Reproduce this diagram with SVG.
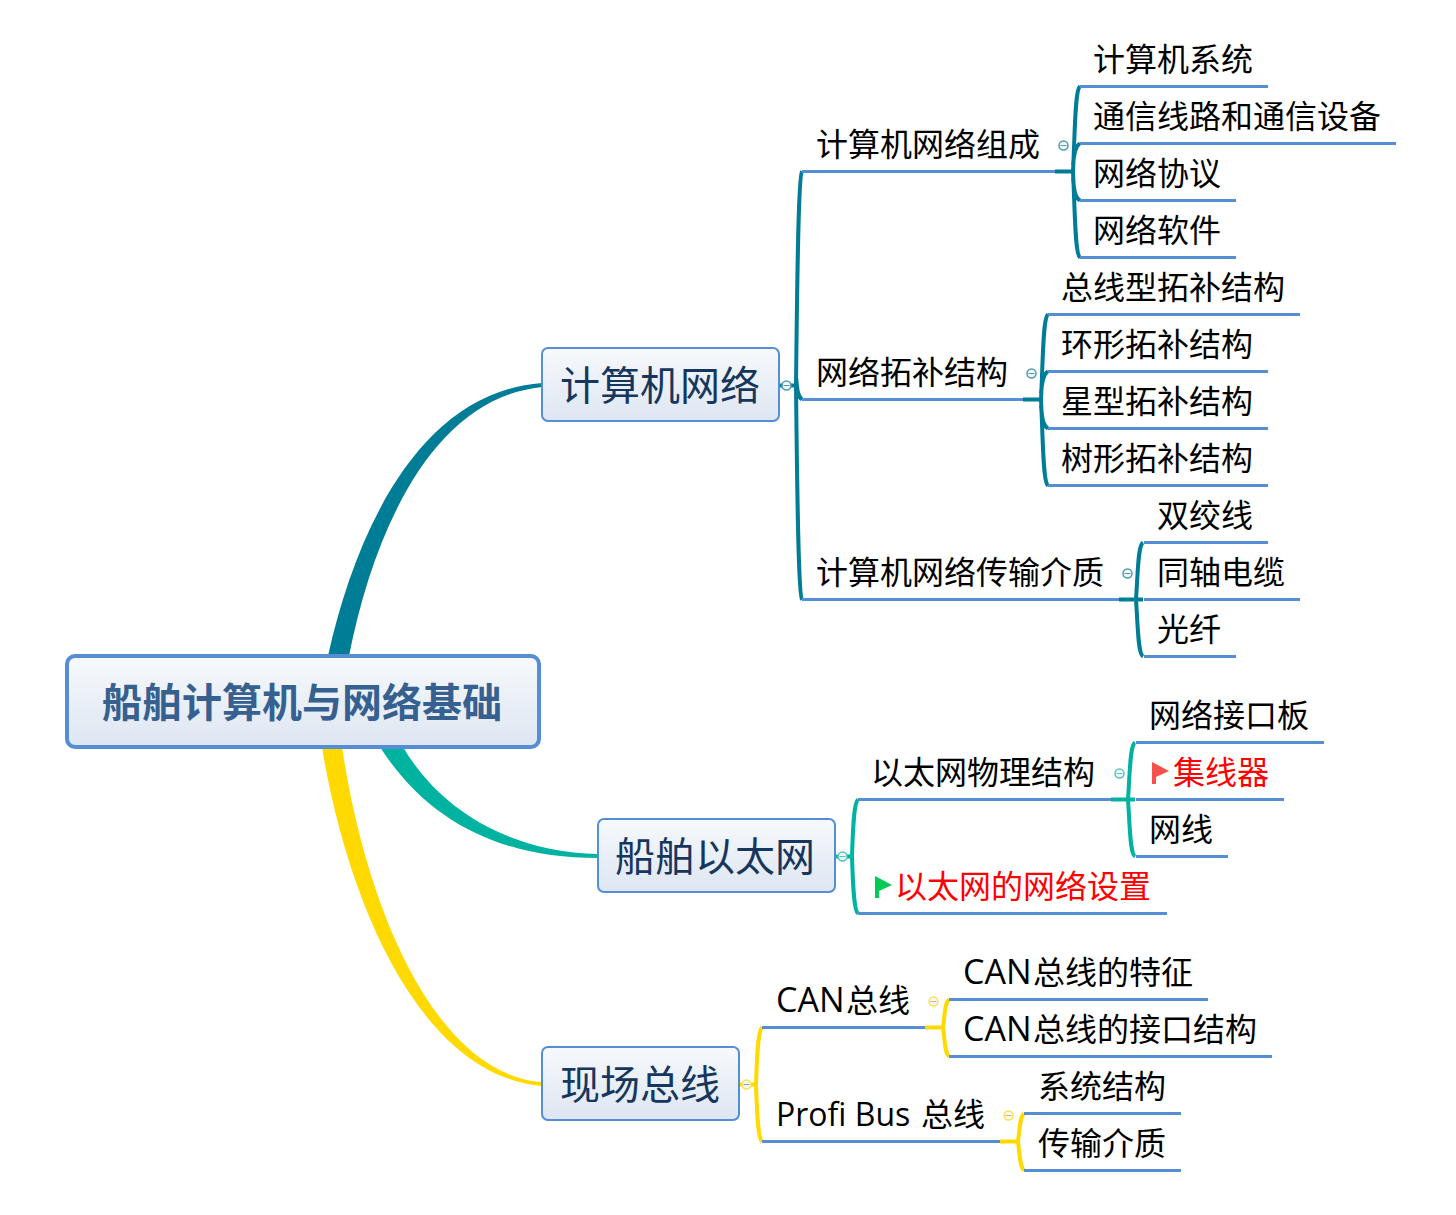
<svg xmlns="http://www.w3.org/2000/svg" width="1456" height="1215" viewBox="0 0 1456 1215">
<defs>
<linearGradient id="g" x1="0" y1="0" x2="0" y2="1"><stop offset="0" stop-color="#f7f9fc"/><stop offset="1" stop-color="#dde6f2"/></linearGradient>
</defs>
<style>
text{font-family:"Noto Sans CJK SC","Microsoft YaHei",sans-serif;fill:#000;font-size:32px}
.lat{font-family:"Open Sans",sans-serif}
.main{font-size:40px;fill:#17365d}
.root{font-size:40px;font-weight:700;fill:#36608f}
.red{fill:#f00}
.box{fill:url(#g);stroke:#558ed5;stroke-width:2}
.u{stroke:#558ed5;stroke-width:3;fill:none}
.t{stroke:#007d96;fill:none;stroke-width:4}
.e{stroke:#00b3a1;fill:none;stroke-width:4}
.y{stroke:#ffd900;fill:none;stroke-width:4}
.ct{fill:#f4f8fa;stroke-width:1.5}
.br{transform:translate(0,.5px)}
</style>
<g id="connectors">
<path fill="#007d96" d="M328 656C356 530 420 392 542 383V387C435 398 375 525 349 656Z"/>
<path fill="#00b3a1" d="M403 747C440 810 510 852 598 854V858C505 858 430 825 380 747Z"/>
<path fill="#ffd900" d="M322 747C345 890 415 1075 542 1086V1082C440 1075 368 920 342 747Z"/>
<g id="branch1" class="br">
<path class="t" d="M780 385H796"/>
<path class="t" d="M802 171C798 176 797 300 796 385C797 470 798 594 802 599M796 375C797 390 798 396 802 399"/>
<path class="u" d="M802 171H1056M802 399H1024M802 599H1120"/>
<path class="t" d="M1055 171H1072M1023 399H1040M1119 599H1143"/>
<path class="t" d="M1080 86C1075 89 1075 130 1073 171C1075 212 1075 254 1080 257M1073 165C1074 152 1076 145 1080 143M1073 177C1074 190 1075 197 1080 200"/>
<path class="t" d="M1048 314C1043 317 1043 358 1041 399C1043 440 1043 482 1048 485M1041 393C1042 380 1044 373 1048 371M1041 405C1042 418 1043 425 1048 428"/>
<path class="t" d="M1143 542C1138 545 1138 570 1136 599C1138 628 1138 653 1143 656"/>
<path class="u" d="M1080 86H1268M1080 143H1396M1080 200H1236M1080 257H1236"/>
<path class="u" d="M1048 314H1300M1048 371H1268M1048 428H1268M1048 485H1268"/>
<path class="u" d="M1144 542H1268M1144 599H1300M1144 656H1236"/>
</g>
<g id="branch2" class="br">
<path class="e" d="M836 856H852"/>
<path class="e" d="M858 799C854 802 853 825 852 856C853 887 854 910 858 913"/>
<path class="u" d="M858 799H1112M858 913H1167"/>
<path class="e" d="M1111 799H1135"/>
<path class="e" d="M1135 742C1130 745 1130 770 1128 799C1130 828 1130 853 1135 856"/>
<path class="u" d="M1136 742H1324M1136 799H1284M1136 856H1228"/>
</g>
<g id="branch3" class="br">
<path class="y" d="M740 1084H756"/>
<path class="y" d="M762 1027C758 1030 757 1055 756 1084C757 1113 758 1138 762 1141"/>
<path class="u" d="M762 1027H926M762 1141H1001"/>
<path class="y" d="M925 1027H942M1000 1141H1017"/>
<path class="y" d="M949 999C945 1002 945 1012 943 1027C945 1042 945 1053 949 1056"/>
<path class="y" d="M1024 1113C1020 1116 1020 1126 1018 1141C1020 1156 1020 1167 1024 1170"/>
<path class="u" d="M949 999H1208M949 1056H1272M1024 1113H1181M1024 1170H1181"/>
</g>
<g id="collapse">
<g stroke="#4f9bb0"><circle class="ct" cx="786.500" cy="385.500" r="4.500"/><path d="M783.500 385.500H789.500"/><circle class="ct" cx="1063.500" cy="145.500" r="4.500"/><path d="M1060.500 145.500H1066.500"/><circle class="ct" cx="1031.500" cy="373.500" r="4.500"/><path d="M1028.500 373.500H1034.500"/><circle class="ct" cx="1127.500" cy="573.500" r="4.500"/><path d="M1124.500 573.500H1130.500"/></g>
<g stroke="#4fc9bc"><circle class="ct" cx="842.500" cy="856.500" r="4.500"/><path d="M839.500 856.500H845.500"/><circle class="ct" cx="1119.500" cy="773.500" r="4.500"/><path d="M1116.500 773.500H1122.500"/></g>
<g stroke="#ffe04d"><circle class="ct" cx="746.500" cy="1084.500" r="4.500"/><path d="M743.500 1084.500H749.500" stroke="#8a9cb8"/><circle class="ct" cx="933.500" cy="1001.500" r="4.500"/><path d="M930.500 1001.500H936.500" stroke="#c9b98a"/><circle class="ct" cx="1008.500" cy="1115.500" r="4.500"/><path d="M1005.500 1115.500H1011.500" stroke="#c9b98a"/></g>
</g>
</g>
<g id="root"><rect x="67" y="656" width="472" height="91" rx="8" fill="url(#g)" stroke="#558ed5" stroke-width="4"/><text class="root" x="102" y="717">船舶计算机与网络基础</text></g>
<g id="n1"><rect class="box" x="542" y="348" width="237" height="73" rx="6"/><text class="main" x="560" y="400">计算机网络</text></g>
<g id="n2"><rect class="box" x="598" y="819" width="237" height="73" rx="6"/><text class="main" x="615" y="871">船舶以太网</text></g>
<g id="n3"><rect class="box" x="542" y="1047" width="197" height="73" rx="6"/><text class="main" x="560" y="1099">现场总线</text></g>
<g id="n1a"><text x="816" y="156">计算机网络组成</text></g>
<g id="n1b"><text x="816" y="384">网络拓补结构</text></g>
<g id="n1c"><text x="816" y="584">计算机网络传输介质</text></g>
<g id="l1"><text x="1093" y="71">计算机系统</text></g>
<g id="l2"><text x="1093" y="128">通信线路和通信设备</text></g>
<g id="l3"><text x="1093" y="185">网络协议</text></g>
<g id="l4"><text x="1093" y="242">网络软件</text></g>
<g id="l5"><text x="1061" y="299">总线型拓补结构</text></g>
<g id="l6"><text x="1061" y="356">环形拓补结构</text></g>
<g id="l7"><text x="1061" y="413">星型拓补结构</text></g>
<g id="l8"><text x="1061" y="470">树形拓补结构</text></g>
<g id="l9"><text x="1157" y="527">双绞线</text></g>
<g id="l10"><text x="1157" y="584">同轴电缆</text></g>
<g id="l11"><text x="1157" y="641">光纤</text></g>
<g id="n2a"><text x="871" y="784">以太网物理结构</text></g>
<g id="n2b"><path fill="#00cc55" d="M875 876L892 885L879 891V898H875Z"/><text class="red" x="895" y="898">以太网的网络设置</text></g>
<g id="l12"><text x="1149" y="727">网络接口板</text></g>
<g id="l13"><path fill="#f5504c" d="M1152 762L1169 771L1156 777V784H1152Z"/><text class="red" x="1173" y="784">集线器</text></g>
<g id="l14"><text x="1149" y="841">网线</text></g>
<g id="n3a"><text x="776"  y="1012"><tspan class="lat" style="font-size:34px">CAN</tspan><tspan x="846">总线</tspan></text></g>
<g id="n3b"><text x="776" y="1126"><tspan class="lat">Profi Bus</tspan><tspan x="921">总线</tspan></text></g>
<g id="l15"><text x="963" y="984"><tspan class="lat" style="font-size:34px">CAN</tspan><tspan x="1033">总线的特征</tspan></text></g>
<g id="l16"><text x="963" y="1041"><tspan class="lat" style="font-size:34px">CAN</tspan><tspan x="1033">总线的接口结构</tspan></text></g>
<g id="l17"><text x="1038" y="1098">系统结构</text></g>
<g id="l18"><text x="1038" y="1155">传输介质</text></g>
</svg>
